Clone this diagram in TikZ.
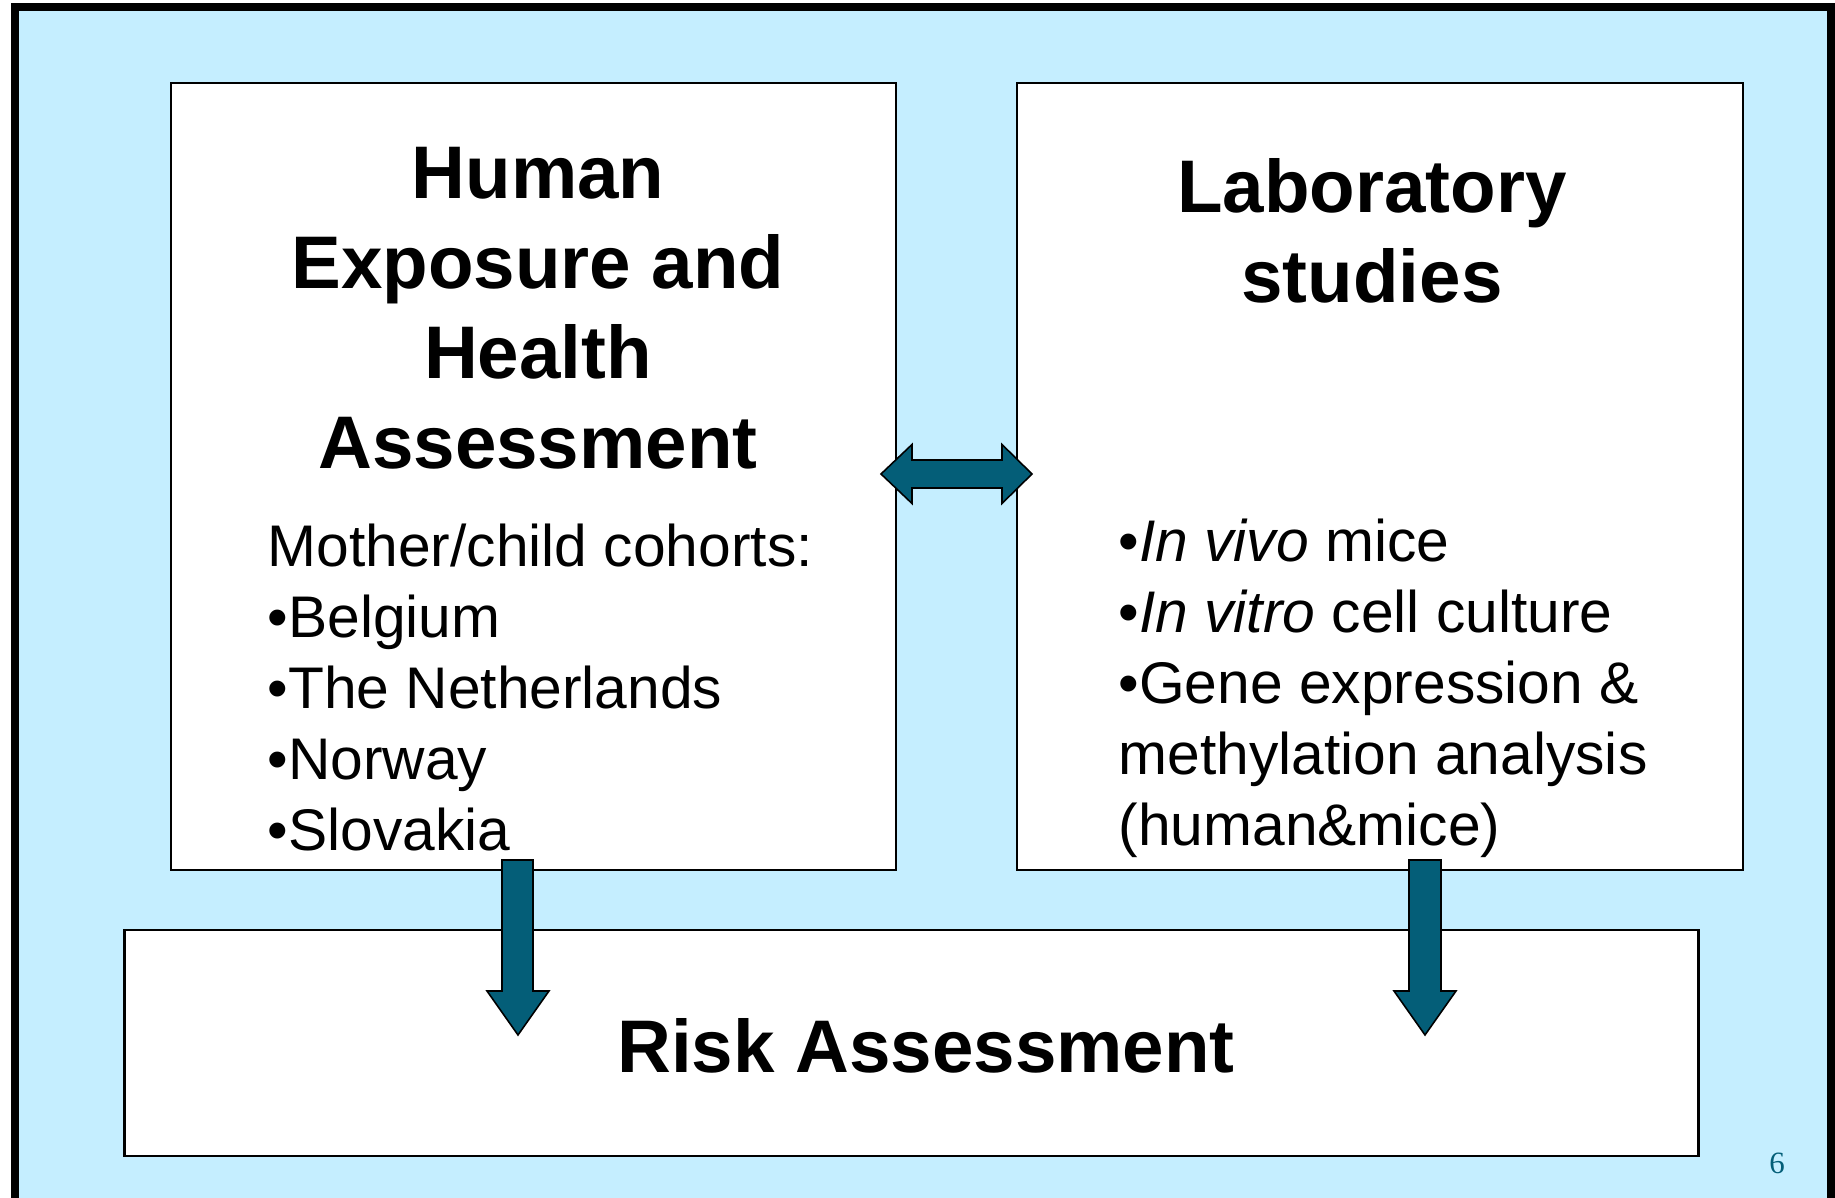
\documentclass[tikz,border=0pt]{standalone}
\usepackage{fontspec}
\setmainfont{Liberation Sans}
\newfontfamily\pagefont{Liberation Serif}
\usepackage{tikz}
\usetikzlibrary{positioning}

\definecolor{slideblue}{RGB}{197,238,255}
\definecolor{arrowteal}{RGB}{4,94,120}

\tikzset{box/.style={draw=black, fill=white, line width=0.6pt, inner sep=0pt}}
\tikzset{title/.style={font=\bfseries\fontsize{21.2}{25.6}\selectfont, align=center, inner sep=0pt}}
\tikzset{body/.style={font=\fontsize{16.7}{20.2}\selectfont, align=left, inner sep=0pt}}
\tikzset{blockarrow/.style={draw=black, fill=arrowteal, line width=0.45pt, line join=miter}}

\begin{document}
\begin{tikzpicture}[x=0.01cm, y=-0.01cm]
\useasboundingbox (0,0) rectangle (1835,1198);
\clip (0,0) rectangle (1835,1198);
% slide background with its frame
\draw[line width=2.28pt, fill=slideblue] (15,7) rectangle (1831,1215);

% the three boxes
\node[box, minimum width=7.25cm, minimum height=7.87cm] (human) at (533.5,476.5) {};
\node[box, minimum width=7.26cm, minimum height=7.87cm] (lab) at (1380,476.5) {};
\node[box, minimum width=15.73cm, minimum height=2.26cm] (risk) at (911.5,1043) {};

% texts (base anchor sits on the last line)
\node[title, anchor=base] (humantitle) at (538,469) {Human\\Exposure and\\Health\\Assessment};
\node[title, anchor=base] (labtitle) at (1372,303) {Laboratory\\studies};
\node[body, anchor=base west] (cohorts) at (267,851) {Mother/child cohorts:\\
  \textbullet Belgium\\
  \textbullet The Netherlands\\
  \textbullet Norway\\
  \textbullet Slovakia};
\node[body, anchor=base west] (methods) at (1118,846) {\textbullet\textit{In vivo} mice\\
  \textbullet\textit{In vitro} cell culture\\
  \textbullet Gene expression \&\\
  methylation analysis\\
  (human\&mice)};
\node[title, anchor=base] (risktitle) at (926,1073) {Risk Assessment};

% block arrows
\draw[blockarrow] (881,474) -- (912,444.5) -- (912,460) -- (1002,460) -- (1002,444.5)
  -- (1032,474) -- (1002,503.5) -- (1002,488) -- (912,488) -- (912,503.5) -- cycle;
\draw[blockarrow] (502,860) -- (533,860) -- (533,991) -- (549,991) -- (518,1035)
  -- (487,991) -- (502,991) -- cycle;
\draw[blockarrow] (1409,860) -- (1441,860) -- (1441,991) -- (1456,991) -- (1425,1035)
  -- (1394,991) -- (1409,991) -- cycle;

% page number
\node[font=\pagefont\fontsize{8.8}{10}\selectfont, text=arrowteal] (pagenum) at (1777,1163) {6};
\end{tikzpicture}
\end{document}
